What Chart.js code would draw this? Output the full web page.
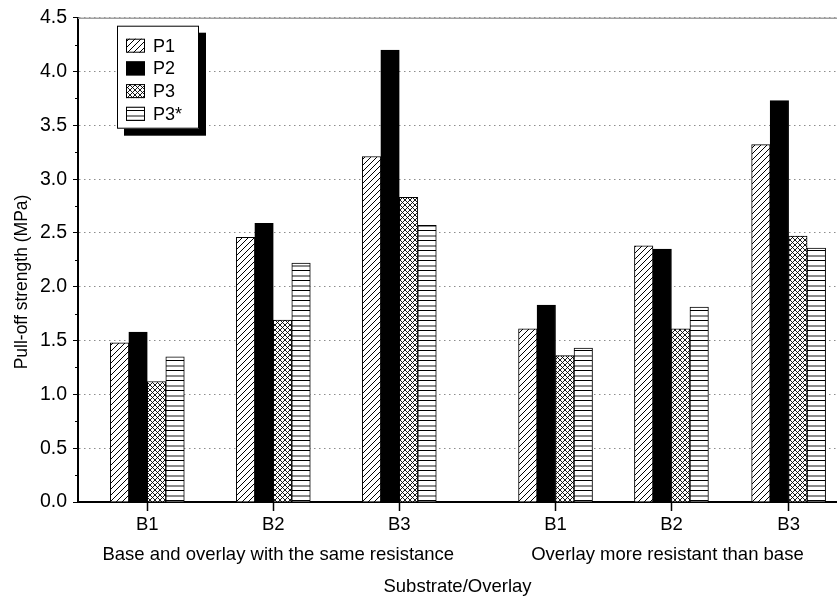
<!DOCTYPE html>
<html><head><meta charset="utf-8">
<script src="https://cdn.jsdelivr.net/npm/chart.js@4/dist/chart.umd.min.js"></script>
<style>html,body{margin:0;padding:0;background:#fff;} #c{display:block;}</style>
</head><body>
<canvas id="c" width="837" height="603"></canvas>
<script>
// ---- data ----
const xLabels = ['B1', 'B2', 'B3', 'B1', 'B2', 'B3'];
const xPos = [1, 2, 3, 4.24, 5.16, 6.09];
const groupLabels = ['Base and overlay with the same resistance', 'Overlay more resistant than base'];
const seriesNames = ['P1', 'P2', 'P3', 'P3*'];
const p1 = [1.48, 2.46, 3.21, 1.61, 2.38, 3.32];
const p2 = [1.58, 2.59, 4.20, 1.83, 2.35, 3.73];
const p3 = [1.12, 1.69, 2.83, 1.36, 1.61, 2.47];
const p3s = [1.35, 2.22, 2.57, 1.43, 1.81, 2.36];
const yMin = 0, yMax = 4.5, yStep = 0.5;
const yTitle = 'Pull-off strength (MPa)';
const xTitle = 'Substrate/Overlay';

const FONT = "'Liberation Sans', Arial, Helvetica, sans-serif";

function makePattern(kind) {
  const c = document.createElement('canvas');
  const g = c.getContext('2d');
  if (kind === 'hatch') {
    c.width = 6; c.height = 6;
    g.fillStyle = '#fff'; g.fillRect(0, 0, 6, 6);
    g.strokeStyle = '#000'; g.lineWidth = 1;
    g.beginPath();
    g.moveTo(0, 6); g.lineTo(6, 0);
    g.moveTo(-1, 1); g.lineTo(1, -1);
    g.moveTo(5, 7); g.lineTo(7, 5);
    g.stroke();
  } else if (kind === 'cross') {
    c.width = 5; c.height = 5;
    g.fillStyle = '#fff'; g.fillRect(0, 0, 5, 5);
    g.strokeStyle = '#000'; g.lineWidth = 0.9;
    g.beginPath();
    g.moveTo(0, 5); g.lineTo(5, 0);
    g.moveTo(-1, 1); g.lineTo(1, -1);
    g.moveTo(4, 6); g.lineTo(6, 4);
    g.moveTo(0, 0); g.lineTo(5, 5);
    g.moveTo(-1, 4); g.lineTo(1, 6);
    g.moveTo(4, -1); g.lineTo(6, 1);
    g.stroke();
  } else if (kind === 'hstripe') {
    c.width = 4; c.height = 10;
    g.fillStyle = '#fff'; g.fillRect(0, 0, 4, 10);
    g.fillStyle = '#000'; g.fillRect(0, 0, 4, 1);
    g.fillStyle = '#8a8a8a'; g.fillRect(0, 5, 4, 2);
  }
  return g.createPattern(c, 'repeat');
}

const fills = [makePattern('hatch'), '#000', makePattern('cross'), makePattern('hstripe')];
const seriesValues = [p1, p2, p3, p3s];

const datasets = seriesNames.map((name, k) => ({
  label: name,
  data: seriesValues[k].map((v, i) => ({ x: xPos[i], y: v })),
  backgroundColor: fills[k],
  borderColor: '#000',
  borderWidth: 1,
  borderSkipped: 'bottom',
  barThickness: 18.5
}));

const decorPlugin = {
  id: 'decor',
  afterDraw(chart) {
    const { ctx, chartArea: a, scales } = chart;
    const ys = scales.y, xs = scales.x;
    ctx.save();
    // top border line
    ctx.strokeStyle = '#a0a0a0'; ctx.lineWidth = 1.5;
    ctx.beginPath(); ctx.moveTo(a.left, a.top + 0.5); ctx.lineTo(a.right, a.top + 0.5); ctx.stroke();
    // minor y ticks
    ctx.strokeStyle = '#000'; ctx.lineWidth = 1;
    for (let v = yMin + yStep / 2; v < yMax; v += yStep) {
      const py = Math.round(ys.getPixelForValue(v)) + 0.5;
      ctx.beginPath(); ctx.moveTo(a.left - 3, py); ctx.lineTo(a.left, py); ctx.stroke();
    }
    // y title
    ctx.fillStyle = '#000';
    ctx.font = '17.5px ' + FONT;
    ctx.textAlign = 'center'; ctx.textBaseline = 'middle';
    ctx.save();
    ctx.translate(22, 282);
    ctx.rotate(-Math.PI / 2);
    ctx.fillText(yTitle, 0, 0);
    ctx.restore();
    // group labels
    ctx.font = '18.5px ' + FONT;
    ctx.fillText(groupLabels[0], xs.getPixelForValue(xPos[1]) + 5, 555);
    ctx.fillText(groupLabels[1], xs.getPixelForValue(xPos[4]) - 4, 555);
    // legend
    const bx = a.left + 39, by = a.top + 8, bw = 82, bh = 103;
    ctx.fillStyle = '#000';
    ctx.fillRect(bx + 7, by + 7, bw, bh);
    ctx.fillStyle = '#fff';
    ctx.fillRect(bx, by, bw, bh);
    ctx.strokeStyle = '#000'; ctx.lineWidth = 1;
    ctx.strokeRect(bx + 0.5, by + 0.5, bw - 1, bh - 1);
    ctx.font = '18px ' + FONT;
    ctx.textAlign = 'left'; ctx.textBaseline = 'middle';
    chart.data.datasets.forEach((ds, i) => {
      const cy = by + 20 + i * 22.7;
      ctx.fillStyle = ds.backgroundColor;
      ctx.fillRect(bx + 9, cy - 7, 19, 14);
      ctx.strokeStyle = '#000';
      ctx.strokeRect(bx + 9.5, cy - 6.5, 18, 13);
      ctx.fillStyle = '#000';
      ctx.fillText(ds.label, bx + 36, cy + 1);
    });
    ctx.restore();
  }
};

new Chart(document.getElementById('c'), {
  type: 'bar',
  data: { datasets },
  options: {
    responsive: false,
    animation: false,
    devicePixelRatio: 1,
    layout: { padding: { top: 16, right: 0, left: 0, bottom: 0 } },
    plugins: { legend: { display: false }, tooltip: { enabled: false } },
    scales: {
      x: {
        type: 'linear',
        offset: false,
        min: 0.45,
        max: 6.474,
        afterBuildTicks(scale) { scale.ticks = xPos.map(v => ({ value: v })); },
        afterFit(scale) { scale.height = 101; },
        ticks: {
          autoSkip: false,
          maxRotation: 0,
          padding: 3,
          color: '#000',
          font: { family: FONT, size: 18.5 },
          callback: (v, i) => xLabels[i]
        },
        grid: { offset: false, drawOnChartArea: false, tickLength: 9, tickColor: '#000', tickWidth: 1.5, tickBorderDash: [], color: '#000' },
        border: { display: true, color: '#000', width: 2 },
        title: { display: true, text: xTitle, color: '#000', font: { family: FONT, size: 18.5 }, padding: { top: 0, bottom: 5 } }
      },
      y: {
        min: yMin,
        max: yMax,
        afterFit(scale) { scale.width = 78; },
        ticks: {
          stepSize: yStep,
          padding: 6,
          color: '#000',
          font: { family: FONT, size: 19.5 },
          callback: v => Number(v).toFixed(1)
        },
        grid: { color: '#8c8c8c', lineWidth: 1, tickLength: 5, tickColor: '#000', tickBorderDash: [], tickWidth: 1 },
        border: { display: true, color: '#000', width: 2, dash: [1.5, 3.5] },
        title: { display: false, text: yTitle }
      }
    }
  },
  plugins: [decorPlugin]
});
</script>
</body></html>
